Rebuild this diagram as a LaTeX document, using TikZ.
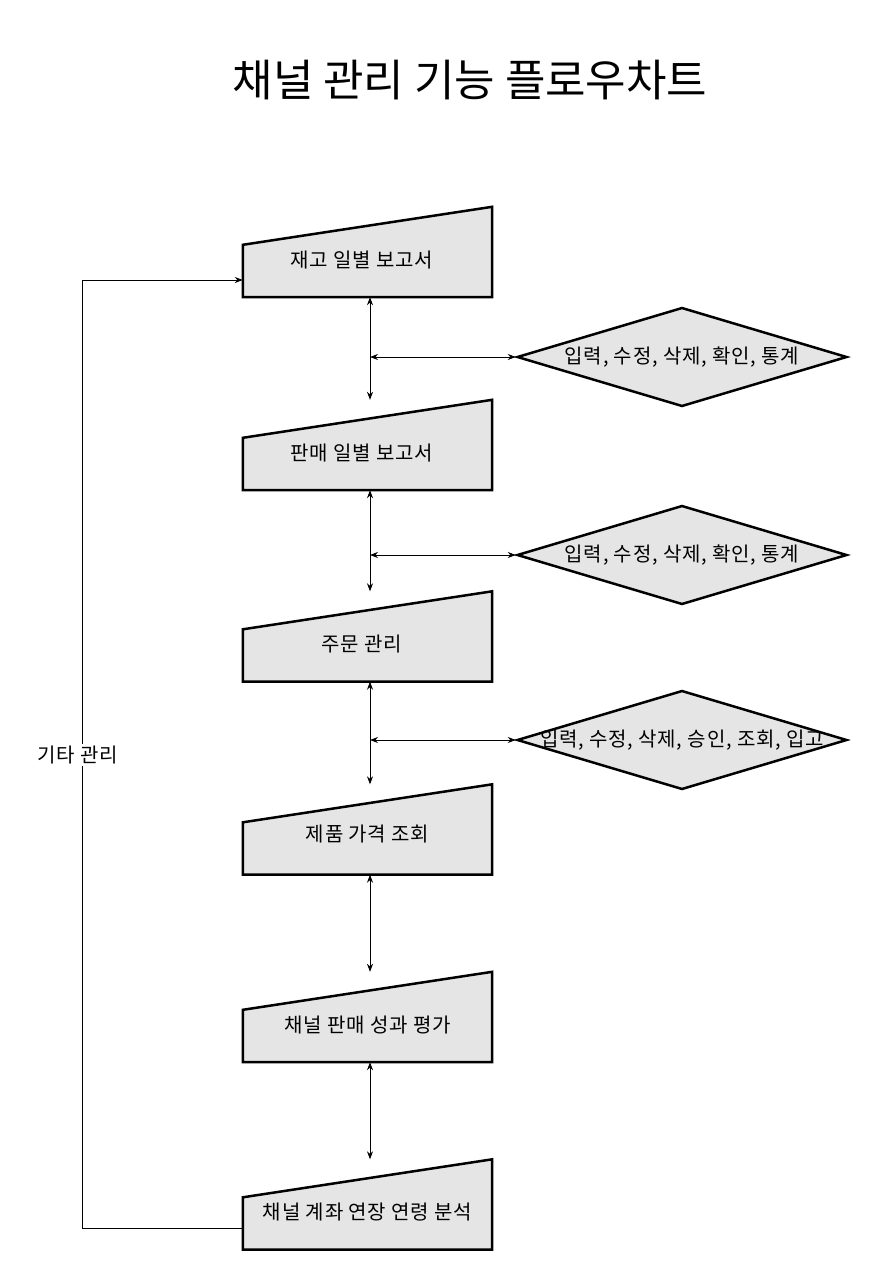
\documentclass[tikz,border=0pt]{standalone}
\usepackage{fontspec}
\setmainfont{Noto Sans CJK KR}
\usetikzlibrary{shapes.geometric,arrows.meta,calc}
\begin{document}
\begin{tikzpicture}[x=1pt,y=-1pt,
  boxn/.style={minimum width=249pt,minimum height=90pt,inner sep=0pt,draw=none},
  shp/.style={draw,line width=2.5pt,fill=gray!20,line join=miter},
  dia/.style={diamond,aspect=3.3,minimum width=330pt,minimum height=99pt,inner sep=0pt,draw,line width=2.5pt,fill=gray!20},
  lbl/.style={font=\fontsize{20}{24}\selectfont\addfontfeature{LetterSpace=4}},
  con/.style={line width=0.8pt,{Stealth[length=8pt,width=6pt]}-{Stealth[length=8pt,width=6pt]}}]
\useasboundingbox (0,0) rectangle (883,1288);
\node[font=\fontsize{44}{50}\selectfont] (title) at (470,80) {채널 관리 기능 플로우차트};
\foreach \n/\y in {1/252,2/445,3/636.5,4/829.5,5/1017,6/1204.5}{
  \node[boxn] (b\n) at (367.5,\y) {};
  \draw[shp] (b\n.south west) -- (b\n.south east) -- (b\n.north east) -- ($(b\n.north west)+(0,38)$) -- cycle;
}
\node[lbl] (t1) at (362,260) {재고 일별 보고서};
\node[lbl] (t2) at (362,453) {판매 일별 보고서};
\node[lbl] (t3) at (362,644) {주문 관리};
\node[lbl] (t4) at (367.5,834) {제품 가격 조회};
\node[lbl] (t5) at (367.5,1025) {채널 판매 성과 평가};
\node[lbl] (t6) at (367.5,1212) {채널 계좌 연장 연령 분석};
\node[dia] (d1) at (682,357) {};
\node[lbl] at (682,357) {입력, 수정, 삭제, 확인, 통계};
\node[dia] (d2) at (682,555) {};
\node[lbl] at (682,555) {입력, 수정, 삭제, 확인, 통계};
\node[dia] (d3) at (682,740) {};
\node[lbl] at (682,740) {입력, 수정, 삭제, 승인, 조회, 입고};
\foreach \a/\b in {1/2,2/3,3/4,4/5,5/6}{
  \draw[con] ([xshift=2.5pt]b\a.south) -- ([xshift=2.5pt]b\b.north);
}
\coordinate (c1) at (370,357);
\coordinate (c2) at (370,555);
\coordinate (c3) at (370,740);
\draw[con] (c1) -- (d1.west);
\draw[con] (c2) -- (d2.west);
\draw[con] (c3) -- (d3.west);
\coordinate (l1) at (82,1228);
\coordinate (l2) at (82,280);
\draw[line width=0.8pt,-{Stealth[length=8pt,width=6pt]}] (b6.west |- l1) -- (l1) -- (l2) -- (b1.west |- l2);
\node[lbl,fill=white,inner sep=2pt] (other) at (78,755) {기타 관리};
\end{tikzpicture}
\end{document}
